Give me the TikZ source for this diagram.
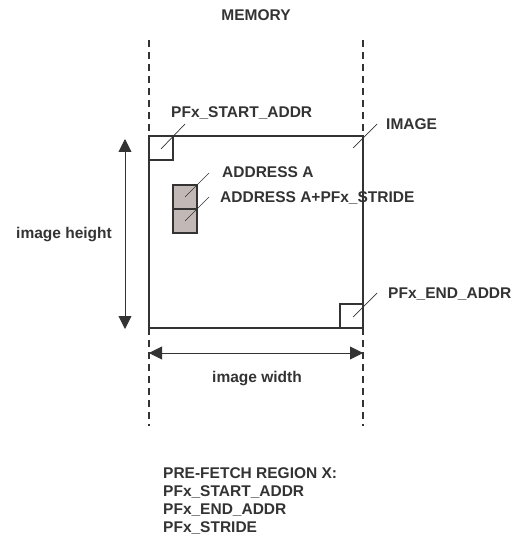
\documentclass[tikz,border=0pt]{standalone}
\usepackage{fontspec}
\setmainfont{Liberation Sans}
\usetikzlibrary{arrows.meta}
\definecolor{ink}{HTML}{333333}
\definecolor{cellfill}{HTML}{C2B9B6}
\begin{document}
\begin{tikzpicture}[x=1pt,y=-1pt,
  lbl/.style={inner sep=0pt,anchor=base west,text=ink,font=\fontsize{15.5}{18}\selectfont\bfseries},
  thick line/.style={draw=ink,line width=2.8pt},
  sep line/.style={draw=ink,line width=2.8pt,dash pattern=on 7pt off 5pt},
  leader/.style={draw=ink,line width=0.7pt},
  dimarrow/.style={draw=ink,line width=0.9pt,{Triangle[length=13pt,width=13pt]}-{Triangle[length=13pt,width=13pt]}},
  cell/.style={thick line,fill=cellfill,line width=2.6pt}]
\useasboundingbox (0,0) rectangle (516,540);
% memory separators
\coordinate (lt) at (149,40);  \coordinate (lb) at (149,426);
\coordinate (rt) at (363,40);  \coordinate (rb) at (363,426);
\coordinate (tl) at (149,136); \coordinate (br) at (363,328);
\coordinate (tr) at (363,136); \coordinate (bl) at (149,328);
\draw[sep line] (lt) -- (tl);
\draw[sep line] (bl) -- (lb);
\draw[sep line] (rt) -- (tr);
\draw[sep line] (br) -- (rb);
% image box
\draw[thick line] (tl) rectangle (br);
% start and end squares
\draw[thick line,line width=2.4pt] (tl) rectangle (173,160);
\draw[thick line,line width=2.4pt] (340,304) rectangle (br);
% address cells
\draw[cell] (173,185) rectangle (197,209);
\draw[cell] (173,209) rectangle (197,233);
% labels
\node[lbl,anchor=base] (mem) at (256,20.4) {MEMORY};
\node[lbl] (start) at (171,118) {PFx\_START\_ADDR};
\node[lbl] (img) at (386,129.5) {IMAGE};
\node[lbl] (addra) at (222,177.5) {ADDRESS A};
\node[lbl] (addrb) at (220,202.5) {ADDRESS A+PFx\_STRIDE};
\node[lbl] (endl) at (388,298.5) {PFx\_END\_ADDR};
\node[lbl,anchor=base] (ih) at (64,238.5) {image height};
\node[lbl,anchor=base] (iw) at (257,382.5) {image width};
\node[lbl] (p1) at (163,478.5) {PRE-FETCH REGION X:};
\node[lbl] (p2) at (163,496.5) {PFx\_START\_ADDR};
\node[lbl] (p3) at (163,514.5) {PFx\_END\_ADDR};
\node[lbl] (p4) at (163,532.5) {PFx\_STRIDE};
% leader lines
\coordinate (s0) at (161,149); \coordinate (s1) at (185,124);
\coordinate (i0) at (353,148); \coordinate (i1) at (377,124);
\coordinate (a0) at (185,197); \coordinate (a1) at (209,173);
\coordinate (b0) at (185,221); \coordinate (b1) at (209,197);
\coordinate (e0) at (353,317); \coordinate (e1) at (377,293);
\draw[leader] (s0) -- (s1);
\draw[leader] (i0) -- (i1);
\draw[leader] (a0) -- (a1);
\draw[leader] (b0) -- (b1);
\draw[leader] (e0) -- (e1);
% dimension arrows
\coordinate (h0) at (125,139); \coordinate (h1) at (125,329);
\coordinate (w0) at (149,353); \coordinate (w1) at (363,353);
\draw[dimarrow] (h0) -- (h1);
\draw[dimarrow] (w0) -- (w1);
\end{tikzpicture}
\end{document}
